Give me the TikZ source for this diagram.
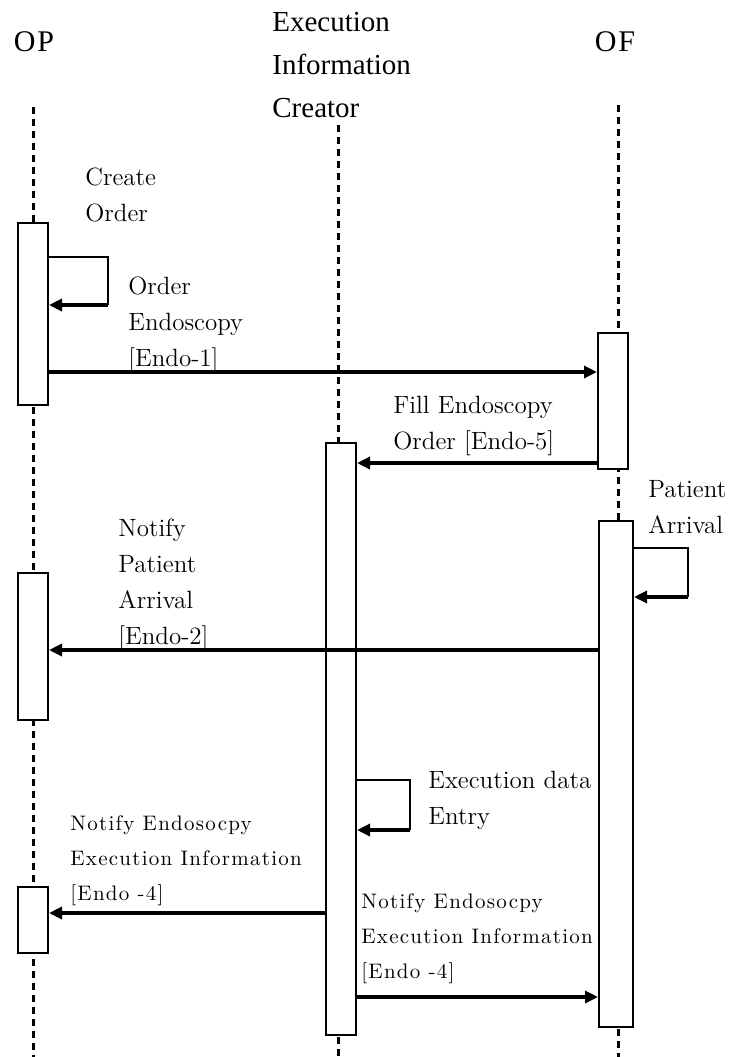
\documentclass[tikz,border=0pt]{standalone}
\usepackage{fontspec}
\newfontfamily\headfont{Liberation Serif}
\newfontfamily\lanefont[LetterSpace=6]{Liberation Serif}
\newfontfamily\notefont[LetterSpace=6]{Latin Modern Roman}
\usetikzlibrary{arrows.meta, positioning, calc}

\begin{document}
\begin{tikzpicture}[x=0.5pt, y=-0.5pt,
    lifeline/.style={line width=1.5pt, dash pattern=on 3.5pt off 2.5pt},
    actbox/.style={draw, line width=1pt, fill=white, minimum width=15pt, inner sep=0pt, anchor=north},
    msg/.style={line width=1.7pt, -{Triangle[length=6.5pt, width=6pt]}},
    loopline/.style={line width=1pt},
    lane/.style={font=\lanefont\fontsize{15}{21}\selectfont, inner sep=0pt},
    head/.style={font=\headfont\fontsize{14.5}{21.5}\selectfont, align=left, inner sep=0pt},
    lbl/.style={font=\fontsize{12.5}{18}\selectfont, align=left, anchor=north west, inner sep=0pt},
    note/.style={font=\notefont\fontsize{10.5}{17.5}\selectfont, align=left, anchor=north west, inner sep=0pt}]
    \useasboundingbox (0,0) rectangle (735,1057);

    % lifelines
    \node[lane] (op) at (34,42) {OP};
    \node[head, anchor=north west] (eicHead) at (272,12) {Execution\\Information\\Creator};
    \node[lane] (of) at (615,42) {OF};
    \coordinate (opTop) at (33,107);
    \coordinate (opEnd) at (33,1057);
    \coordinate (eicTop) at (338,125);
    \coordinate (eicEnd) at (338,1057);
    \coordinate (ofTop) at (618,105);
    \coordinate (ofEnd) at (618,1057);
    \draw[lifeline] (opTop) -- (opEnd);
    \draw[lifeline] (eicTop) -- (eicEnd);
    \draw[lifeline] (ofTop) -- (ofEnd);

    % activations
    \node[actbox, minimum height=91pt] (op1) at (33,222) {};
    \node[actbox, minimum height=73.5pt] (op2) at (33,572) {};
    \node[actbox, minimum height=33pt] (op3) at (33,886) {};
    \node[actbox, minimum height=296pt] (eic) at (341,442) {};
    \node[actbox, minimum height=68pt] (of1) at (613,332) {};
    \node[actbox, minimum height=253pt, minimum width=17pt] (of2) at (616,520) {};

    % create order
    \coordinate (orderTop) at (108,257);
    \coordinate (orderBot) at (108,305);
    \draw[loopline] (op1.east |- orderTop) -- (orderTop) -- (orderBot);
    \draw[msg] (orderBot) -- (op1.east |- orderBot);
    \node[lbl] (createLbl) at (85,167) {Create\\Order};

    % order endoscopy
    \draw[msg] (op1.east |- 0,372) -- (of1.west |- 0,372);
    \node[lbl] (orderLbl) at (128,276) {Order\\Endoscopy\\{[Endo-1]}};

    % fill order
    \draw[msg] (of1.west |- 0,463) -- (eic.east |- 0,463);
    \node[lbl] (fillLbl) at (393,396) {Fill Endoscopy\\Order [Endo-5]};

    % patient arrival
    \coordinate (arrTop) at (688,548);
    \coordinate (arrBot) at (688,597);
    \draw[loopline] (of2.east |- arrTop) -- (arrTop) -- (arrBot);
    \draw[msg] (arrBot) -- (of2.east |- arrBot);
    \node[lbl] (arrLbl) at (648,480) {Patient\\Arrival};

    \draw[msg] (of2.west |- 0,650) -- (op2.east |- 0,650);
    \node[lbl] (notifyArrLbl) at (118,518) {Notify\\Patient\\Arrival\\{[Endo-2]}};

    % execution data
    \coordinate (entryTop) at (410,780);
    \coordinate (entryBot) at (410,830);
    \draw[loopline] (eic.east |- entryTop) -- (entryTop) -- (entryBot);
    \draw[msg] (entryBot) -- (eic.east |- entryBot);
    \node[lbl] (entryLbl) at (428,771) {Execution data\\Entry};

    \draw[msg] (eic.west |- 0,913) -- (op3.east |- 0,913);
    \node[note] (execOpLbl) at (70,815) {Notify Endosocpy\\Execution Information\\{[Endo -4]}};

    \draw[msg] (eic.east |- 0,997) -- (of2.west |- 0,997);
    \node[note] (execOfLbl) at (361,893) {Notify Endosocpy\\Execution Information\\{[Endo -4]}};
\end{tikzpicture}
\end{document}
